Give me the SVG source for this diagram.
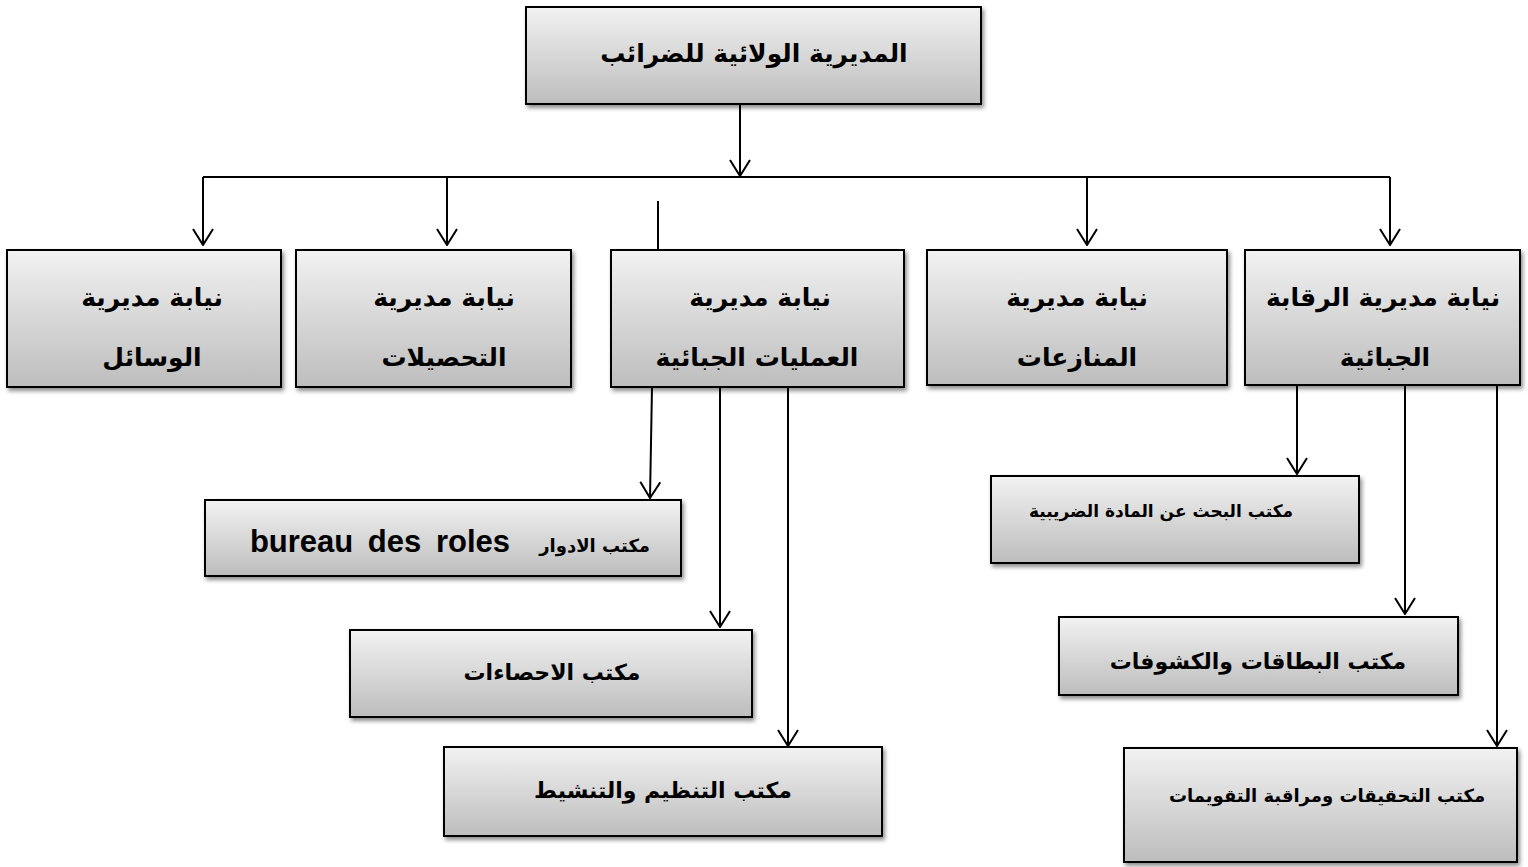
<svg xmlns="http://www.w3.org/2000/svg" width="1528" height="867" viewBox="0 0 1528 867">
<defs>
<linearGradient id="g" x1="0" y1="0" x2="0" y2="1">
<stop offset="0" stop-color="#f2f2f2"/>
<stop offset="1" stop-color="#bdbdbd"/>
</linearGradient>
<filter id="sh" x="-5%" y="-5%" width="115%" height="125%">
<feDropShadow dx="2" dy="3" stdDeviation="2" flood-color="#000" flood-opacity="0.45"/>
</filter>
<marker id="ar" viewBox="0 0 18 22" refX="17" refY="11" markerWidth="18" markerHeight="22" markerUnits="userSpaceOnUse" orient="auto">
<path d="M1,1 L17,11 L1,21" fill="none" stroke="#000" stroke-width="2"/>
</marker>
</defs>
<style>
.box{fill:url(#g);stroke:#000;stroke-width:2;filter:url(#sh)}
.t{font-family:"DejaVu Sans","Liberation Sans",sans-serif;font-weight:bold;fill:#000;text-anchor:middle}
.lat{font-family:"Liberation Sans",Arial,sans-serif;font-weight:bold;fill:#000;text-anchor:end}
.ln{stroke:#000;stroke-width:2;fill:none}
.a{marker-end:url(#ar)}
</style>
<rect width="1528" height="867" fill="#fff"/>
<g id="connectors">
<path class="ln a" d="M740,104 V176"/>
<path class="ln" d="M203,177 H1390"/>
<path class="ln a" d="M203,177 V245"/>
<path class="ln a" d="M447,177 V245"/>
<path class="ln a" d="M1087,177 V245"/>
<path class="ln a" d="M1390,177 V245"/>
<path class="ln" d="M658,201 V250"/>
<path class="ln a" d="M652,387 L650,498"/>
<path class="ln a" d="M720,387 V627"/>
<path class="ln a" d="M788,387 V746"/>
<path class="ln a" d="M1297,385 V474"/>
<path class="ln a" d="M1405,385 V614"/>
<path class="ln a" d="M1497,385 V746"/>
</g>
<g id="n0"><rect class="box" x="526" y="7" width="455" height="97"/><text class="t" x="754" y="62" font-size="25">المديرية الولائية للضرائب</text></g>
<g id="n1"><rect class="box" x="7" y="250" width="274" height="137"/><text class="t" x="152" y="306" font-size="25">نيابة مديرية</text><text class="t" x="152" y="366" font-size="25">الوسائل</text></g>
<g id="n2"><rect class="box" x="296" y="250" width="275" height="137"/><text class="t" x="444" y="306" font-size="25">نيابة مديرية</text><text class="t" x="444" y="366" font-size="25">التحصيلات</text></g>
<g id="n3"><rect class="box" x="611" y="250" width="293" height="137"/><text class="t" x="760" y="306" font-size="25">نيابة مديرية</text><text class="t" x="757" y="366" font-size="25">العمليات الجبائية</text></g>
<g id="n4"><rect class="box" x="927" y="250" width="300" height="135"/><text class="t" x="1077" y="306" font-size="25">نيابة مديرية</text><text class="t" x="1077" y="366" font-size="25">المنازعات</text></g>
<g id="n5"><rect class="box" x="1245" y="250" width="275" height="135"/><text class="t" x="1383" y="306" font-size="25">نيابة مديرية الرقابة</text><text class="t" x="1385" y="366" font-size="25">الجبائية</text></g>
<g id="n6"><rect class="box" x="205" y="500" width="476" height="76"/><text class="t" x="650" y="552" font-size="18" text-anchor="end" style="text-anchor:end">مكتب الادوار</text><text class="lat" x="510" y="552" font-size="31" font-weight="bold" word-spacing="6">bureau des roles</text></g>
<g id="n7"><rect class="box" x="350" y="630" width="402" height="87"/><text class="t" x="552" y="680" font-size="22">مكتب الاحصاءات</text></g>
<g id="n8"><rect class="box" x="444" y="747" width="438" height="89"/><text class="t" x="663" y="798" font-size="22">مكتب التنظيم والتنشيط</text></g>
<g id="n9"><rect class="box" x="991" y="476" width="368" height="87"/><text class="t" x="1161" y="517" font-size="17">مكتب البحث عن المادة الضريبية</text></g>
<g id="n10"><rect class="box" x="1059" y="617" width="399" height="78"/><text class="t" x="1258" y="669" font-size="22">مكتب البطاقات والكشوفات</text></g>
<g id="n11"><rect class="box" x="1124" y="748" width="393" height="114"/><text class="t" x="1327" y="802" font-size="18">مكتب التحقيقات ومراقبة التقويمات</text></g>
</svg>
